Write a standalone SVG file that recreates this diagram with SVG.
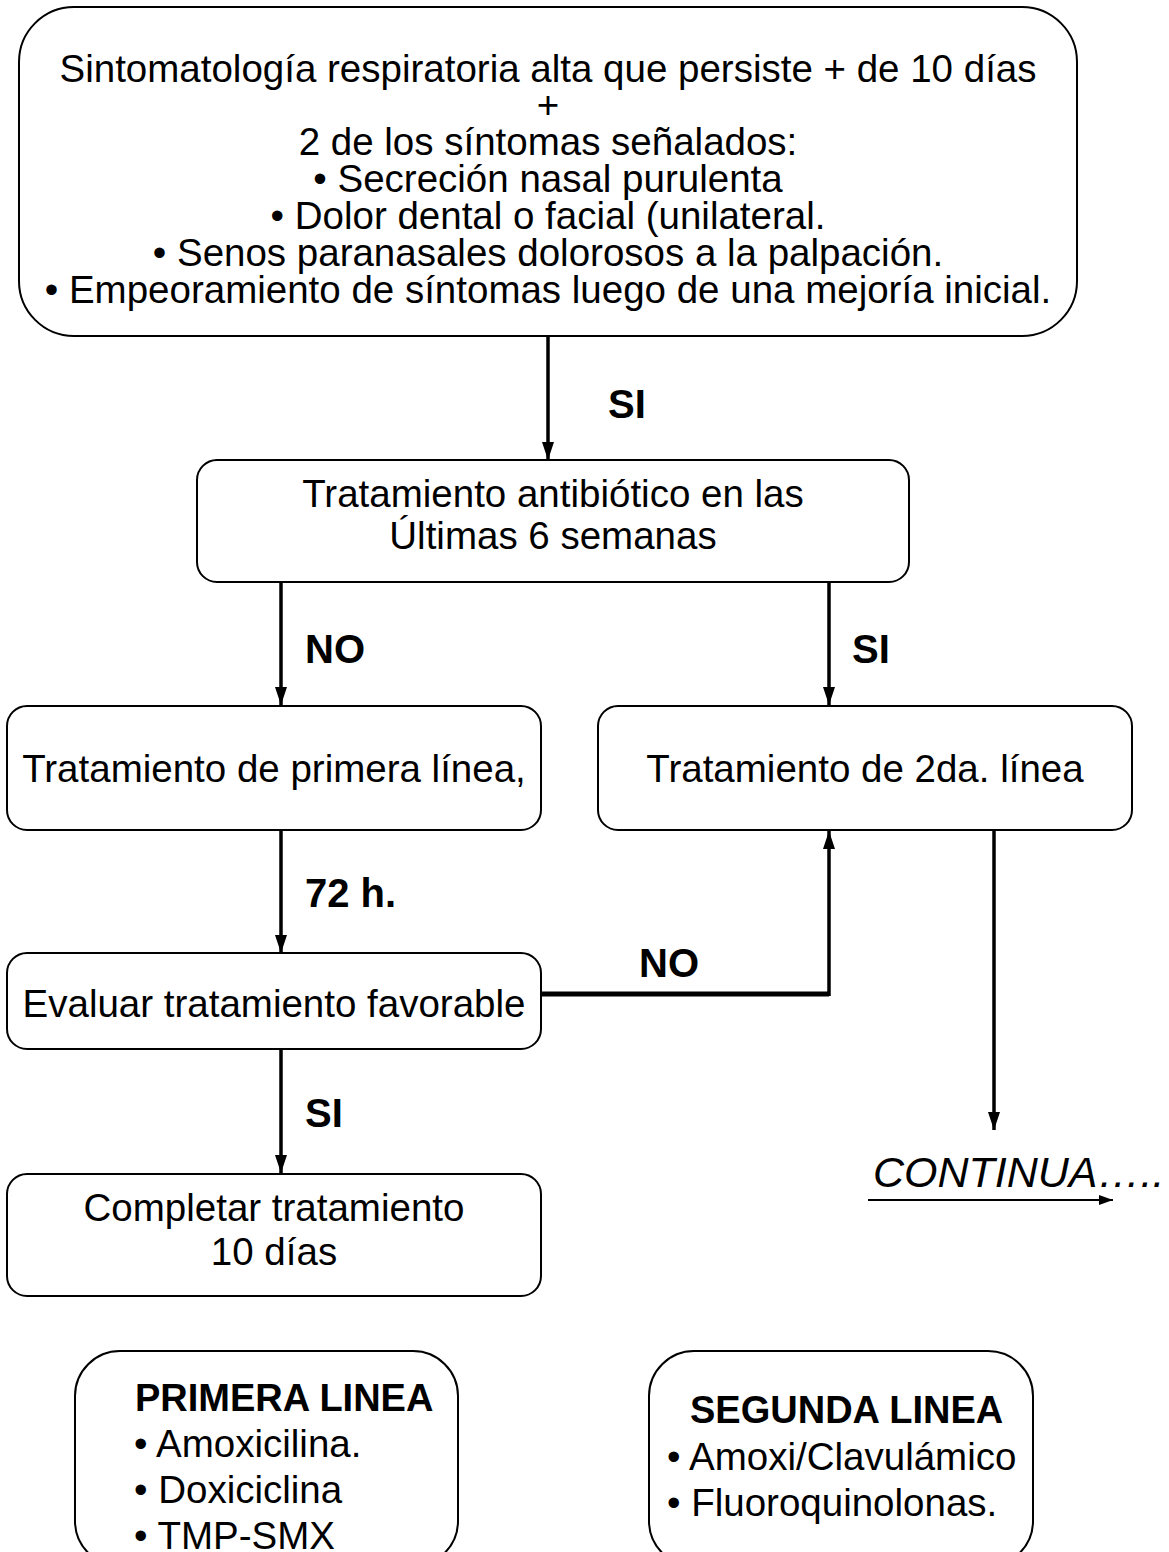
<svg xmlns="http://www.w3.org/2000/svg" width="1169" height="1552" viewBox="0 0 1169 1552">
<style>
.box{fill:#fff;stroke:#000;stroke-width:2}
.t{font-family:"Liberation Sans",Arial,sans-serif;font-size:38.5px;fill:#000}
.c{text-anchor:middle}
.lbl{font-family:"Liberation Sans",Arial,sans-serif;font-size:40px;font-weight:bold;fill:#000}
.h{font-family:"Liberation Sans",Arial,sans-serif;font-size:38px;font-weight:bold;fill:#000}
.ln{fill:none;stroke:#000;stroke-width:3.5}
</style>
<defs>
<marker id="ah" viewBox="0 0 18 12" refX="18" refY="6" markerWidth="18" markerHeight="12" markerUnits="userSpaceOnUse" orient="auto"><path d="M0,0 L18,6 L0,12 z" fill="#000"/></marker>
<marker id="ahs" viewBox="0 0 14 10" refX="14" refY="5" markerWidth="14" markerHeight="10" markerUnits="userSpaceOnUse" orient="auto"><path d="M0,0 L14,5 L0,10 z" fill="#000"/></marker>
</defs>
<rect width="1169" height="1552" fill="#fff"/>
<g id="connectors">
<path class="ln" d="M548,337 V460" marker-end="url(#ah)"/>
<path class="ln" d="M281,583 V705" marker-end="url(#ah)"/>
<path class="ln" d="M829,583 V705" marker-end="url(#ah)"/>
<path class="ln" d="M281,831 V953" marker-end="url(#ah)"/>
<path class="ln" d="M541,994 H829" style="stroke-width:5"/>
<path class="ln" d="M829,996 V831" marker-end="url(#ah)"/>
<path class="ln" d="M994,831 V1130" marker-end="url(#ah)"/>
<path class="ln" d="M281,1050 V1173" marker-end="url(#ah)"/>
<path class="ln" d="M868,1200 H1113" style="stroke-width:2" marker-end="url(#ahs)"/>
<text class="lbl" x="608" y="418">SI</text>
<text class="lbl" x="305" y="663">NO</text>
<text class="lbl" x="852" y="663">SI</text>
<text class="lbl" x="305" y="907">72 h.</text>
<text class="lbl" x="639" y="977">NO</text>
<text class="lbl" x="305" y="1127">SI</text>
</g>
<g id="n1">
<rect class="box" x="19" y="7" width="1058" height="329" rx="55" ry="55"/>
<text class="t c" x="548" y="81.5">Sintomatología respiratoria alta que persiste + de 10 días</text>
<text class="t c" x="548" y="118.4">+</text>
<text class="t c" x="548" y="155.3">2 de los síntomas señalados:</text>
<text class="t c" x="548" y="192.2">• Secreción nasal purulenta</text>
<text class="t c" x="548" y="229.1">• Dolor dental o facial (unilateral.</text>
<text class="t c" x="548" y="266">• Senos paranasales dolorosos a la palpación.</text>
<text class="t c" x="548" y="302.9">• Empeoramiento de síntomas luego de una mejoría inicial.</text>
</g>
<g id="n2">
<rect class="box" x="197" y="460" width="712" height="122" rx="20" ry="20"/>
<text class="t c" x="553" y="507">Tratamiento antibiótico en las</text>
<text class="t c" x="553" y="549">Últimas 6 semanas</text>
</g>
<g id="n3">
<rect class="box" x="7" y="706" width="534" height="124" rx="20" ry="20"/>
<text class="t c" x="274" y="782">Tratamiento de primera línea,</text>
</g>
<g id="n4">
<rect class="box" x="598" y="706" width="534" height="124" rx="20" ry="20"/>
<text class="t c" x="865" y="782">Tratamiento de 2da. línea</text>
</g>
<g id="n5">
<rect class="box" x="7" y="953" width="534" height="96" rx="20" ry="20"/>
<text class="t c" x="274" y="1017">Evaluar tratamiento favorable</text>
</g>
<g id="n6">
<rect class="box" x="7" y="1174" width="534" height="122" rx="20" ry="20"/>
<text class="t c" x="274" y="1221">Completar tratamiento</text>
<text class="t c" x="274" y="1265">10 días</text>
</g>
<g id="continua">
<text class="t" x="873" y="1187" style="font-style:italic;font-size:43px">CONTINUA…..</text>
</g>
<g id="n7">
<rect class="box" x="75" y="1351" width="383" height="215" rx="45" ry="45"/>
<text class="h" x="135" y="1411">PRIMERA LINEA</text>
<text class="t" x="134" y="1457">• Amoxicilina.</text>
<text class="t" x="134" y="1503">• Doxiciclina</text>
<text class="t" x="134" y="1549">• TMP-SMX</text>
</g>
<g id="n8">
<rect class="box" x="649" y="1351" width="384" height="215" rx="45" ry="45"/>
<text class="h" x="690" y="1423">SEGUNDA LINEA</text>
<text class="t" x="667" y="1470">• Amoxi/Clavulámico</text>
<text class="t" x="667" y="1516">• Fluoroquinolonas.</text>
</g>
</svg>
